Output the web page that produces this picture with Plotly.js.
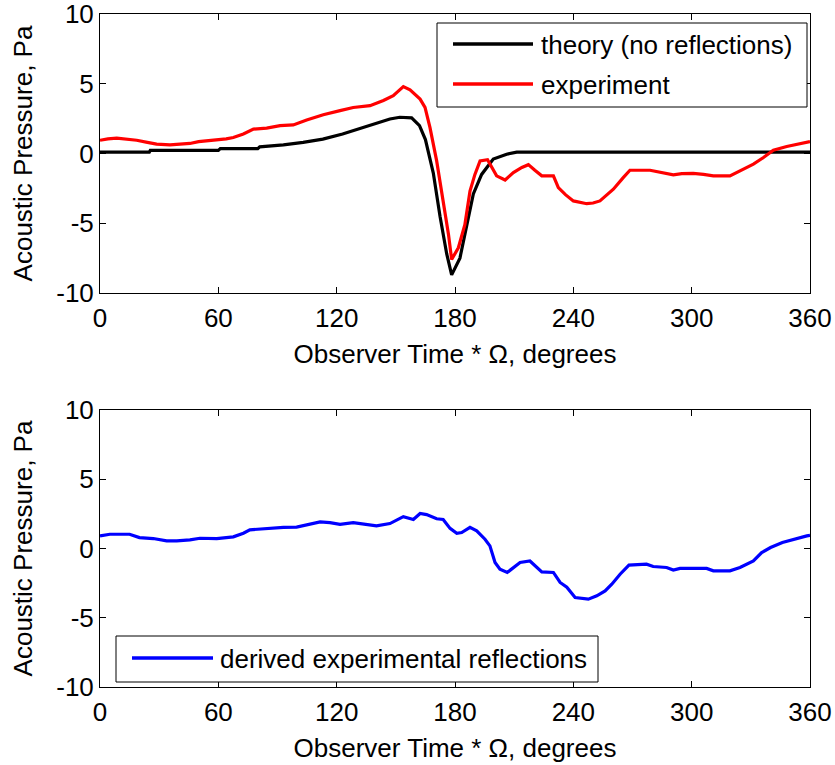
<!DOCTYPE html>
<html>
<head>
<meta charset="utf-8">
<script src="https://cdn.plot.ly/plotly-3.0.1.min.js"></script>
<style>
html,body{margin:0;padding:0;background:#fff;}
#chart{width:835px;height:765px;}
</style>
</head>
<body>
<div id="chart"></div>
<script>
// ---- data ----
var xTickVals = [0, 60, 120, 180, 240, 300, 360];
var xTickText = ['0', '60', '120', '180', '240', '300', '360'];
var yTickVals = [-10, -5, 0, 5, 10];
var yTickText = ['-10', '-5', '0', '5', '10'];

var theoryName = 'theory (no reflections)';
var theoryX = [0, 25, 25.5, 60, 61, 80, 81, 93, 103, 113, 123, 130, 138.5, 147, 152, 158, 162, 165, 169, 172.4, 175.8, 178.3, 182.5, 185.9, 189.3, 193.5, 199.4, 206.2, 211.3, 360];
var theoryY = [0.1, 0.1, 0.22, 0.22, 0.35, 0.35, 0.48, 0.62, 0.8, 1.03, 1.4, 1.7, 2.1, 2.47, 2.6, 2.55, 2.0, 1.0, -1.4, -4.5, -7.2, -8.7, -7.5, -5.1, -2.9, -1.5, -0.4, -0.05, 0.1, 0.1];

var expName = 'experiment';
var expX = [0, 4, 8.5, 13, 18.6, 24, 28.7, 35.5, 40, 45.6, 50, 54, 60.8, 64, 67.6, 72.7, 77.8, 84.5, 91.3, 98, 104.8, 113.2, 121.7, 128.4, 136.9, 143.7, 148.7, 151.5, 153.8, 157.2, 162.3, 164.8, 167.3, 170.7, 174.1, 176.7, 178.3, 181.7, 185, 187.6, 190.1, 192.7, 196.5, 198.6, 201.1, 205.4, 209.6, 213.9, 217.2, 220.5, 224, 229.9, 232.4, 236, 240, 246.8, 250, 253.5, 257, 260.3, 265.3, 268.7, 278.9, 285, 290.7, 295, 300.8, 306, 311, 319.4, 324.5, 331.3, 336.4, 341.4, 348.2, 355, 360];
var expY = [0.95, 1.05, 1.1, 1.05, 0.95, 0.8, 0.67, 0.62, 0.68, 0.72, 0.85, 0.91, 0.96, 1.05, 1.15, 1.4, 1.75, 1.82, 2.0, 2.05, 2.4, 2.78, 3.07, 3.3, 3.43, 3.8, 4.15, 4.5, 4.8, 4.56, 3.9, 3.3, 1.87, -0.53, -3.4, -5.8, -7.6, -6.76, -5.1, -2.7, -1.5, -0.53, -0.45, -1.0, -1.6, -1.9, -1.37, -1.0, -0.8, -1.2, -1.6, -1.6, -2.45, -2.95, -3.4, -3.6, -3.55, -3.4, -3.0, -2.56, -1.73, -1.2, -1.2, -1.35, -1.53, -1.45, -1.43, -1.5, -1.6, -1.6, -1.25, -0.76, -0.29, 0.24, 0.5, 0.72, 0.85];

var reflName = 'derived experimental reflections';
var reflX = [0, 5, 15, 20, 27, 33.8, 38.9, 45.6, 50.7, 59.2, 67.6, 72.7, 76, 84.5, 93, 99.7, 106.5, 111.6, 116.6, 121.7, 128.4, 135.2, 140.2, 147, 150.4, 153.8, 158.9, 162.3, 165.6, 170.7, 174, 177.5, 180.9, 183.4, 187.6, 191, 195.2, 197.7, 200.3, 202.8, 206.5, 213, 218, 224, 229.9, 233.3, 236.7, 240.9, 247.6, 251.9, 256.1, 259.5, 263.7, 268.2, 277.1, 280.5, 287.3, 290.7, 294.1, 307.6, 311, 319.4, 324.5, 331.3, 335.5, 340, 346, 351.7, 358.4, 360];
var reflY = [0.91, 1.03, 1.03, 0.79, 0.72, 0.55, 0.55, 0.62, 0.74, 0.72, 0.84, 1.1, 1.35, 1.45, 1.52, 1.54, 1.75, 1.92, 1.87, 1.75, 1.87, 1.75, 1.63, 1.8, 2.07, 2.3, 2.1, 2.53, 2.45, 2.15, 2.1, 1.45, 1.1, 1.15, 1.52, 1.27, 0.67, 0.19, -1.01, -1.49, -1.73, -1.01, -0.9, -1.69, -1.73, -2.45, -2.8, -3.54, -3.66, -3.42, -3.06, -2.58, -1.86, -1.2, -1.13, -1.3, -1.37, -1.56, -1.44, -1.44, -1.61, -1.61, -1.37, -0.9, -0.29, 0.07, 0.43, 0.67, 0.91, 0.95];

var xTitle = 'Observer Time * \u03A9, degrees';
var yTitle = 'Acoustic Pressure, Pa';

// ---- styling ----
var FONT = 'Liberation Sans, Arial, Helvetica, sans-serif';
var FS = 26;

function xAxis(anchor) {
  return {
    anchor: anchor, domain: [0, 1], range: [0, 360],
    tickmode: 'array', tickvals: xTickVals, ticktext: xTickText,
    ticks: 'inside', ticklen: 6, tickwidth: 1, tickcolor: '#000',
    showline: true, linecolor: '#000', linewidth: 1, mirror: 'ticks',
    showgrid: false, zeroline: false, automargin: false,
    ticklabelstandoff: 2, ticklabeloverflow: 'allow',
    tickfont: {family: FONT, size: FS, color: '#000'},
    title: {text: xTitle, font: {family: FONT, size: FS, color: '#000'}, standoff: 12}
  };
}
function yAxis(anchor, domain) {
  return {
    anchor: anchor, domain: domain, range: [-10.002, 10.002],
    tickmode: 'array', tickvals: yTickVals, ticktext: yTickText,
    ticks: 'inside', ticklen: 6, tickwidth: 1, tickcolor: '#000',
    showline: true, linecolor: '#000', linewidth: 1, mirror: 'ticks',
    showgrid: false, zeroline: false, automargin: false,
    ticklabeloverflow: 'allow',
    tickfont: {family: FONT, size: FS, color: '#000'},
    title: {text: yTitle, font: {family: FONT, size: FS, color: '#000'}, standoff: 16}
  };
}

var traces = [
  {x: theoryX, y: theoryY, name: theoryName, type: 'scatter', mode: 'lines',
   line: {color: '#000000', width: 3.2}, xaxis: 'x', yaxis: 'y', showlegend: false},
  {x: expX, y: expY, name: expName, type: 'scatter', mode: 'lines',
   line: {color: '#ff0000', width: 3.2}, xaxis: 'x', yaxis: 'y', showlegend: false},
  {x: reflX, y: reflY, name: reflName, type: 'scatter', mode: 'lines',
   line: {color: '#0000ff', width: 3.2}, xaxis: 'x2', yaxis: 'y2', showlegend: false}
];

// MATLAB-style legend boxes drawn in paper coordinates
function px(xp) { return (xp - 100) / 710; }
function py(yp) { return (687 - yp) / 673; }

var shapes = [
  {type: 'rect', xref: 'paper', yref: 'paper', x0: px(437), x1: px(807), y0: py(107), y1: py(23),
   line: {color: '#000', width: 1}, fillcolor: '#fff', layer: 'above'},
  {type: 'line', xref: 'paper', yref: 'paper', x0: px(453), x1: px(533), y0: py(44), y1: py(44),
   line: {color: '#000000', width: 3.5}, layer: 'above'},
  {type: 'line', xref: 'paper', yref: 'paper', x0: px(453), x1: px(533), y0: py(84), y1: py(84),
   line: {color: '#ff0000', width: 3.5}, layer: 'above'},
  {type: 'rect', xref: 'paper', yref: 'paper', x0: px(116), x1: px(598), y0: py(682), y1: py(636),
   line: {color: '#000', width: 1}, fillcolor: '#fff', layer: 'above'},
  {type: 'line', xref: 'paper', yref: 'paper', x0: px(132), x1: px(213), y0: py(658), y1: py(658),
   line: {color: '#0000ff', width: 3.5}, layer: 'above'}
];
var annFont = {family: FONT, size: FS, color: '#000'};
var annotations = [
  {xref: 'paper', yref: 'paper', x: px(539), y: py(45), text: theoryName, showarrow: false,
   xanchor: 'left', yanchor: 'middle', font: annFont},
  {xref: 'paper', yref: 'paper', x: px(539), y: py(85), text: expName, showarrow: false,
   xanchor: 'left', yanchor: 'middle', font: annFont},
  {xref: 'paper', yref: 'paper', x: px(218), y: py(659), text: reflName, showarrow: false,
   xanchor: 'left', yanchor: 'middle', font: annFont}
];

var layout = {
  width: 835, height: 765,
  margin: {l: 100, r: 25, t: 14, b: 78, pad: 0},
  paper_bgcolor: '#fff', plot_bgcolor: '#fff',
  font: {family: FONT, size: FS, color: '#000'},
  showlegend: false,
  xaxis: xAxis('y'),
  yaxis: yAxis('x', [py(293), 1]),
  xaxis2: xAxis('y2'),
  yaxis2: yAxis('x2', [0, py(410)]),
  shapes: shapes,
  annotations: annotations
};

Plotly.newPlot('chart', traces, layout, {displayModeBar: false, staticPlot: true});
</script>
</body>
</html>
